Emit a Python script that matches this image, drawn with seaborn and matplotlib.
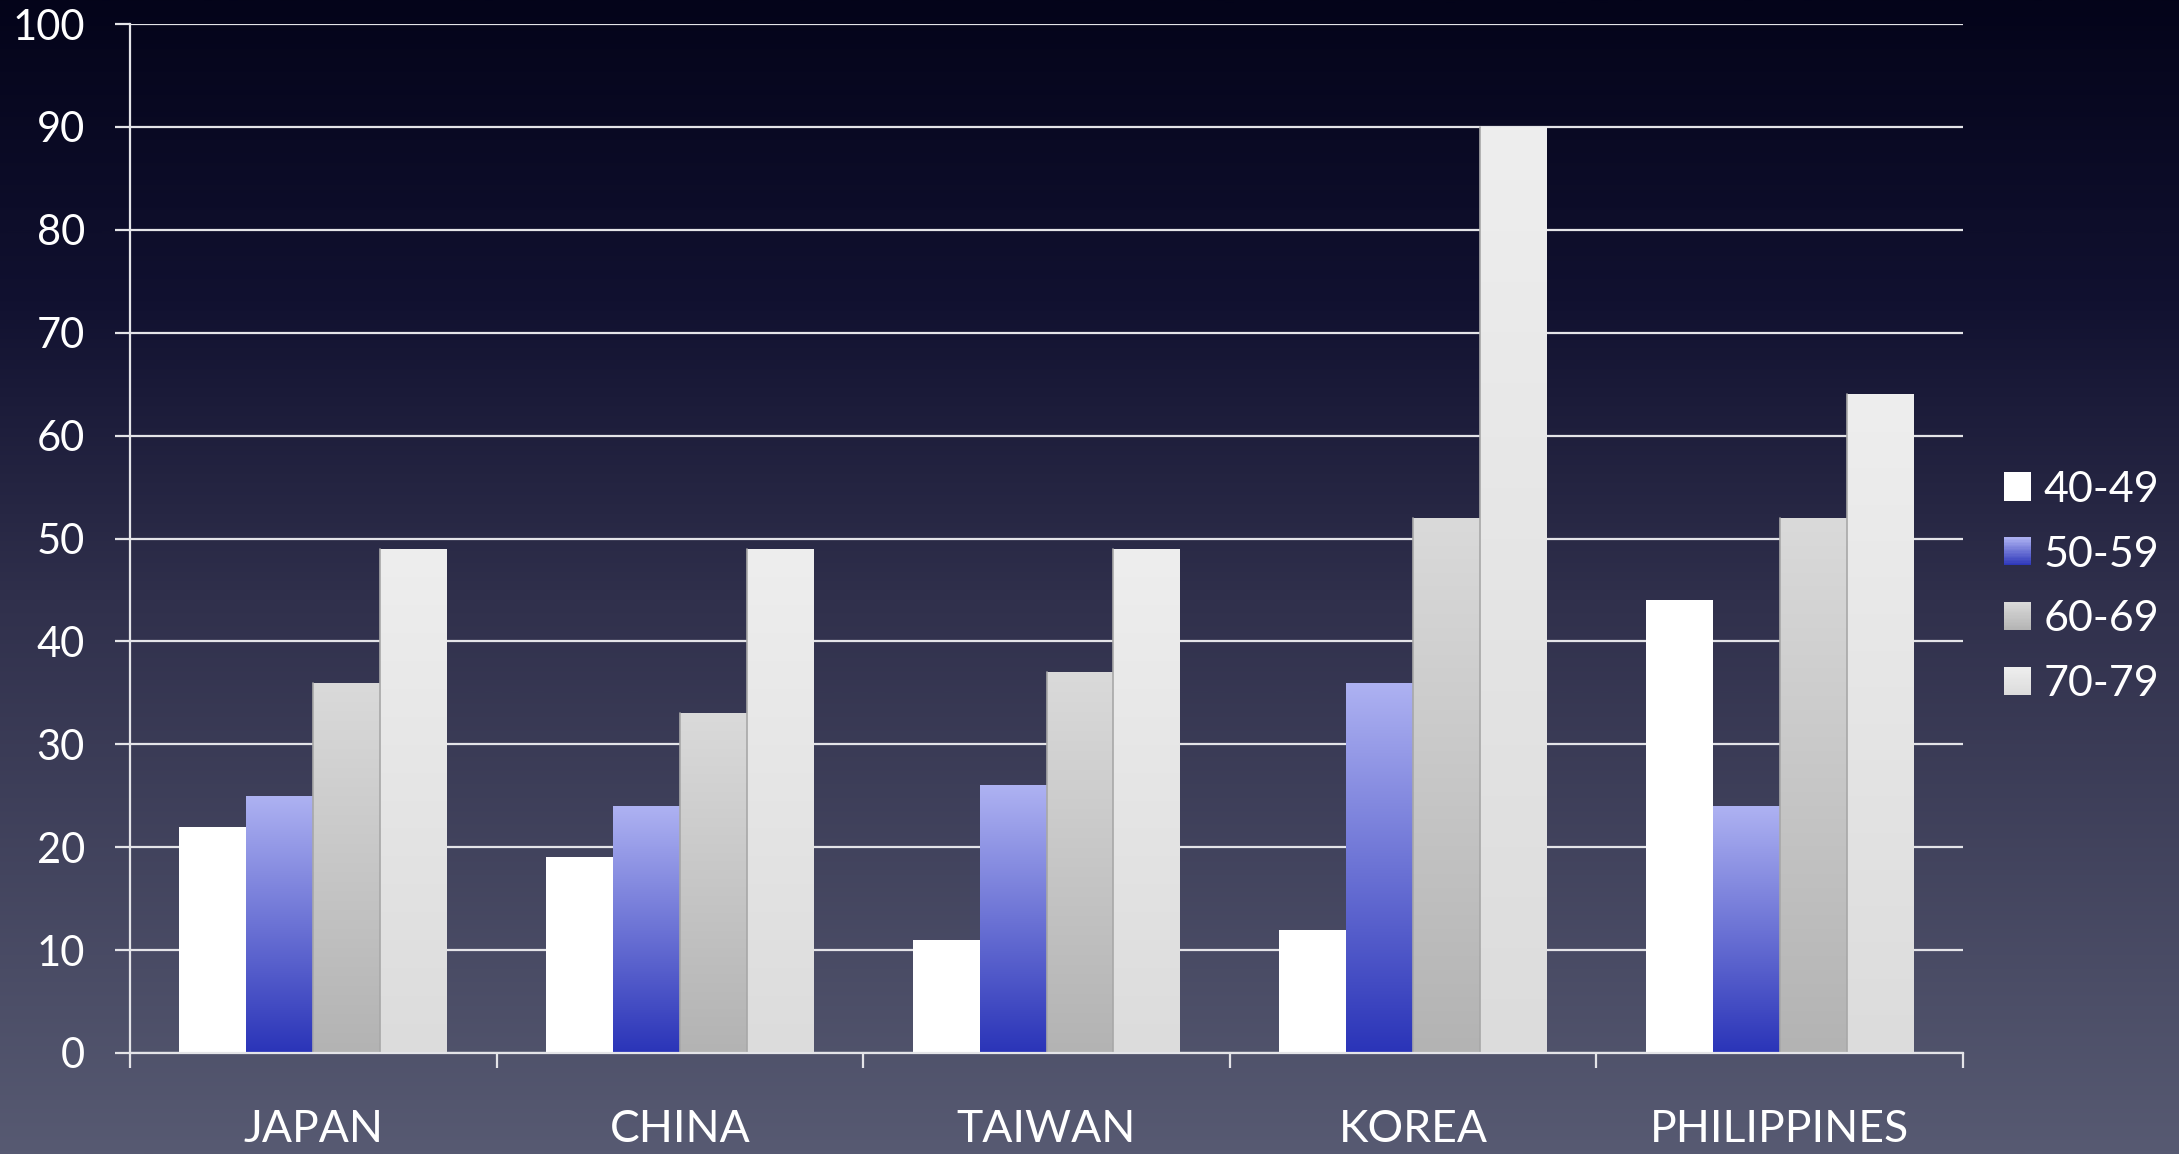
import numpy as np
import pandas as pd
import matplotlib
matplotlib.use("Agg")
import matplotlib.pyplot as plt
from matplotlib.colors import LinearSegmentedColormap
from matplotlib.patches import Patch, Rectangle
from matplotlib.legend_handler import HandlerBase
import seaborn as sns

countries = ["JAPAN", "CHINA", "TAIWAN", "KOREA", "PHILIPPINES"]
age_groups = ["40-49", "50-59", "60-69", "70-79"]
v40 = [22, 19, 11, 12, 44]
v50 = [25, 24, 26, 36, 24]
v60 = [36, 33, 37, 52, 52]
v70 = [49, 49, 49, 90, 64]
yticks = [0, 10, 20, 30, 40, 50, 60, 70, 80, 90, 100]

df = pd.DataFrame({
    "country": countries * 4,
    "age": sum([[a] * len(countries) for a in age_groups], []),
    "value": v40 + v50 + v60 + v70,
})

sns.set_style("dark")
plt.rcParams["font.family"] = ["Lato", "DejaVu Sans"]

W, H = 2179, 1154
fig = plt.figure(figsize=(W / 100, H / 100), dpi=100)
fig.patch.set_facecolor("#1a1a30")

# background gradient
bg = fig.add_axes([0, 0, 1, 1], zorder=-10)
bg_cmap = LinearSegmentedColormap.from_list(
    "bg", [(0.0, "#575a72"), (0.48, "#30304c"), (0.74, "#111130"), (1.0, "#04041a")])
grad = np.linspace(0, 1, 512).reshape(-1, 1)
bg.imshow(grad, aspect="auto", cmap=bg_cmap, origin="lower", extent=[0, 1, 0, 1])
bg.axis("off")

ax = fig.add_axes([130 / W, 1 - 1053 / H, (1963 - 130) / W, (1053 - 24) / H])
ax.set_facecolor("none")

solid = {"40-49": "#ffffff", "50-59": "#7c82dc", "60-69": "#c6c6c6", "70-79": "#e6e6e6"}
sns.barplot(data=df, x="country", y="value", hue="age", order=countries,
            hue_order=age_groups, palette=solid, width=0.73, gap=0,
            saturation=1, ax=ax, legend=False, zorder=3, linewidth=0)

grads = {
    "40-49": ("#ffffff", "#ffffff"),
    "50-59": ("#2a34b8", "#aeb2f2"),
    "60-69": ("#b3b3b3", "#dadada"),
    "70-79": ("#dcdcdc", "#eeeeee"),
}
cmaps = {a: LinearSegmentedColormap.from_list("g" + a, list(grads[a])) for a in age_groups}
for age, cont in zip(age_groups, ax.containers):
    cmap = cmaps[age]
    for bar in cont.patches:
        x, y0 = bar.get_x(), bar.get_y()
        w, h = bar.get_width(), bar.get_height()
        im = ax.imshow(np.linspace(0, 1, 256).reshape(-1, 1), cmap=cmap,
                       origin="lower", aspect="auto",
                       extent=[x, x + w, y0, y0 + h], zorder=4)
        im.set_clip_path(bar)
        if age in ("60-69", "70-79"):
            ax.plot([x, x], [y0, y0 + h], color="#a8a8a8", lw=1.2, zorder=5)

ax.set_xlim(-0.5, len(countries) - 0.5)
ax.set_ylim(0, 100)
ax.set_yticks(yticks)
ax.set_yticklabels([str(t) for t in yticks])
ax.set_xlabel("")
ax.set_ylabel("")

grid_col = "#e4e4e8"
ax.grid(False)
for t in yticks:
    ax.axhline(t, color=grid_col, lw=1.6, zorder=1)

for s in ["top", "right"]:
    ax.spines[s].set_visible(False)
for s in ["left", "bottom"]:
    ax.spines[s].set_color(grid_col)
    ax.spines[s].set_linewidth(1.6)
    ax.spines[s].set_zorder(6)

ax.tick_params(axis="y", which="major", direction="out", length=10.5, width=1.6,
               color=grid_col, pad=22, labelsize=30, labelcolor="white", left=True)
ax.set_xticks(np.arange(-0.5, len(countries)), minor=True)
ax.tick_params(axis="x", which="minor", direction="out", length=11, width=1.6,
               color=grid_col, bottom=True)
ax.tick_params(axis="x", which="major", length=0, pad=40, labelsize=32,
               labelcolor="white")


class GradientHandler(HandlerBase):
    def create_artists(self, legend, orig_handle, xdescent, ydescent, width,
                       height, fontsize, trans):
        cmap = cmaps[orig_handle.get_label()]
        n = 20
        arts = []
        for i in range(n):
            r = Rectangle((-xdescent, -ydescent + height * i / n), width,
                          height / n + 0.3, facecolor=cmap((i + 0.5) / n),
                          edgecolor="none", transform=trans)
            arts.append(r)
        return arts


handles = [Patch(facecolor=solid[a], edgecolor="none", label=a) for a in age_groups]
leg = fig.legend(handles=handles, loc="center left",
                 bbox_to_anchor=(2004 / W, 1 - 587 / H), frameon=False,
                 fontsize=31, labelcolor="white", handlelength=0.62,
                 handleheight=0.62, handletextpad=0.3, labelspacing=0.62,
                 borderpad=0, borderaxespad=0,
                 handler_map={Patch: GradientHandler()})

fig.savefig("out.png", dpi=100)
